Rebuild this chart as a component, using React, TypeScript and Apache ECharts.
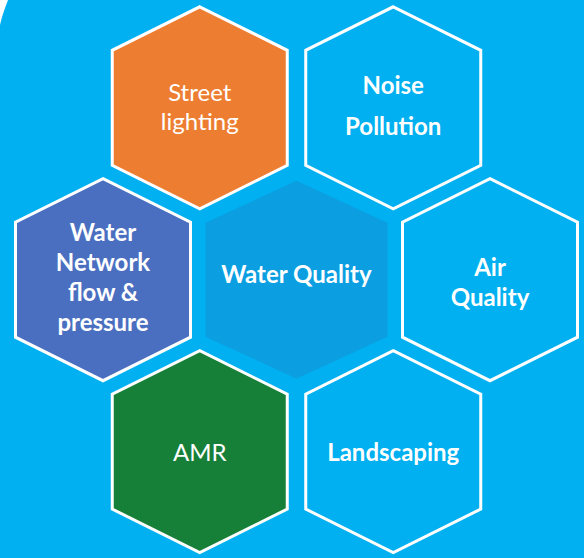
import React, { useEffect, useRef } from "react";
import * as echarts from "echarts";

// Hexagon tiles (grid position in hex-column / hex-row units)
const labels = [
  "Street\nlighting",
  "Noise\nPollution",
  "Water\nNetwork\nflow &\npressure",
  "Water Quality",
  "Air\nQuality",
  "AMR",
  "Landscaping",
];
const cols = [0.5, 1.5, 0, 1, 2, 0.5, 1.5];
const rows = [0, 0, 1, 1, 1, 2, 2];

// styling per tile
const fills = ["#ED7D31", "#00B0F0", "#4A6FC0", "#0B9FE2", "#00B0F0", "#178038", "#00B0F0"];
const bordered = [true, true, true, false, true, true, true];
const boldText = [false, true, true, true, true, false, true];
const lineHeights = [29, 41, 30, 30, 30, 30, 30];
const labelDy = [-2, -3, -3, -6, 2, 0, 0];

const W = 584;
const H = 558;
const BG = "#00B0F0";

export default function App() {
  const ref = useRef<HTMLDivElement>(null);
  useEffect(() => {
    if (!ref.current) return;
    const chart = echarts.init(ref.current, undefined, { renderer: "svg" });
    const xUnit = 193.5, x0 = 103;
    const yUnit = 171.9, y0 = 107.8;
    const data = labels.map((l, i) => [cols[i], rows[i], i]);
    chart.setOption({
      animation: false,
      backgroundColor: BG,
      grid: { left: 0, right: 0, top: 0, bottom: 0 },
      xAxis: { type: "value", min: -x0 / xUnit, max: (W - x0) / xUnit, show: false },
      yAxis: { type: "value", inverse: true, min: -y0 / yUnit, max: (H - y0) / yUnit, show: false },
      graphic: [
        {
          type: "polygon",
          shape: { points: [[0, 0], [8, 0], [5, 8], [2, 17], [0, 25]] },
          style: { fill: "#ffffff" },
          z: 10,
        },
      ],
      series: [
        {
          type: "custom",
          coordinateSystem: "cartesian2d",
          data,
          renderItem: (params: any, api: any) => {
            const idx = api.value(2);
            const [cx, cy] = api.coord([api.value(0), api.value(1)]);
            const b = bordered[idx];
            const w = b ? 87.5 : 91;
            const s = b ? 57.5 : 57;
            const t = b ? 43.5 : 42;
            const pts = [
              [cx, cy - s - t],
              [cx + w, cy - s],
              [cx + w, cy + s],
              [cx, cy + s + t],
              [cx - w, cy + s],
              [cx - w, cy - s],
            ];
            return {
              type: "group",
              children: [
                {
                  type: "polygon",
                  shape: { points: pts },
                  style: {
                    fill: fills[idx],
                    stroke: b ? "#ffffff" : "none",
                    lineWidth: b ? 3 : 0,
                    lineJoin: "miter",
                  },
                },
                {
                  type: "text",
                  style: {
                    text: labels[idx],
                    x: cx,
                    y: cy + labelDy[idx],
                    align: "center",
                    verticalAlign: "middle",
                    fill: "#ffffff",
                    font: `${boldText[idx] ? "bold" : "normal"} 24px Lato`,
                    lineHeight: lineHeights[idx],
                  },
                },
              ],
            };
          },
        },
      ],
    });
    return () => chart.dispose();
  }, []);
  return (
    <div
      ref={ref}
      style={{ position: "fixed", left: 0, top: 0, width: W, height: H }}
    />
  );
}
